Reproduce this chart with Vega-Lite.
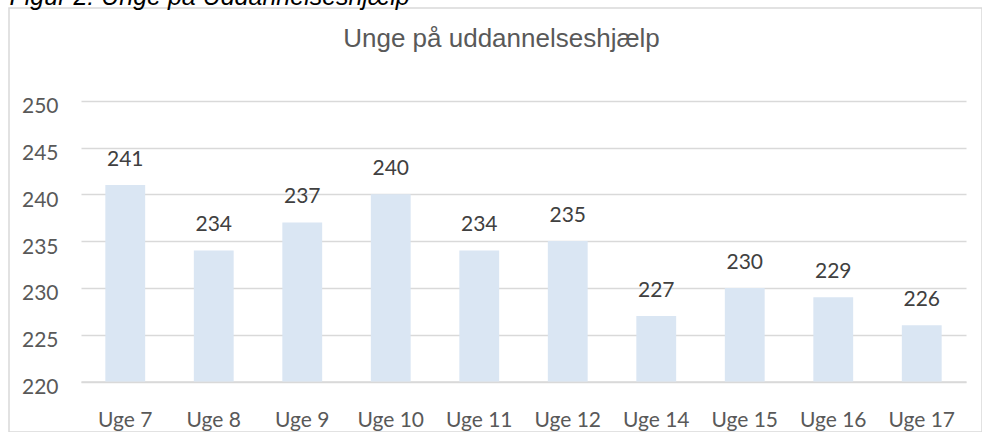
{
  "$schema": "https://vega.github.io/schema/vega-lite/v6.json",
  "width": 973,
  "height": 424,
  "autosize": {"type": "none"},
  "padding": {"left": 9, "top": 8, "right": 0, "bottom": 0},
  "background": "white",
  "config": {
    "view": {"stroke": "#d9d9d9", "strokeWidth": 1.5},
    "font": "Lato"
  },
  "data": {
    "values": [
      {"uge": "Uge 7", "antal": 241},
      {"uge": "Uge 8", "antal": 234},
      {"uge": "Uge 9", "antal": 237},
      {"uge": "Uge 10", "antal": 240},
      {"uge": "Uge 11", "antal": 234},
      {"uge": "Uge 12", "antal": 235},
      {"uge": "Uge 14", "antal": 227},
      {"uge": "Uge 15", "antal": 230},
      {"uge": "Uge 16", "antal": 229},
      {"uge": "Uge 17", "antal": 226}
    ]
  },
  "encoding": {
    "x": {
      "field": "uge",
      "type": "nominal",
      "sort": null,
      "scale": {"type": "band", "range": [72, 957], "paddingInner": 0.55, "paddingOuter": 0.275},
      "axis": {
        "orient": "bottom",
        "offset": -50.5,
        "domain": true,
        "domainColor": "#d9d9d9",
        "domainWidth": 1.5,
        "ticks": false,
        "tickSize": 0,
        "grid": false,
        "labelAngle": 0,
        "labelFont": "Lato",
        "labelFontSize": 21,
        "labelColor": "#595959",
        "labelBaseline": "alphabetic",
        "labelPadding": 45,
        "title": "Unge på uddannelseshjælp",
        "titleX": 492,
        "titleY": -335.5,
        "titleAlign": "center",
        "titleAnchor": null,
        "titleBaseline": "alphabetic",
        "titleFont": "Liberation Sans",
        "titleFontSize": 26,
        "titleFontWeight": "normal",
        "titleColor": "#595959"
      }
    },
    "y": {
      "field": "antal",
      "type": "quantitative",
      "scale": {"domain": [220, 250], "range": [373.5, 92.7], "zero": false, "nice": false},
      "axis": {
        "orient": "left",
        "offset": -957,
        "values": [220, 225, 230, 235, 240, 245, 250],
        "domain": false,
        "grid": false,
        "ticks": true,
        "tickSize": 885,
        "tickColor": "#d9d9d9",
        "tickWidth": 1.5,
        "labelFont": "Lato",
        "labelFontSize": 21,
        "labelColor": "#595959",
        "labelBaseline": "alphabetic",
        "labelOffset": 12,
        "labelPadding": 23,
        "title": "Figur 2: Unge på Uddannelseshjælp",
        "titleAngle": 0,
        "titleX": -957,
        "titleY": -3.5,
        "titleAlign": "left",
        "titleAnchor": null,
        "titleBaseline": "alphabetic",
        "titleFont": "Liberation Sans",
        "titleFontStyle": "italic",
        "titleFontWeight": "normal",
        "titleFontSize": 25,
        "titleColor": "#000000"
      }
    }
  },
  "layer": [
    {
      "mark": {"type": "bar", "color": "#dae6f3"},
      "encoding": {"y2": {"datum": 220}}
    },
    {
      "mark": {"type": "text", "baseline": "alphabetic", "dy": -19, "font": "Lato", "fontSize": 21, "color": "#404040"},
      "encoding": {"text": {"field": "antal", "type": "quantitative"}}
    }
  ]
}
